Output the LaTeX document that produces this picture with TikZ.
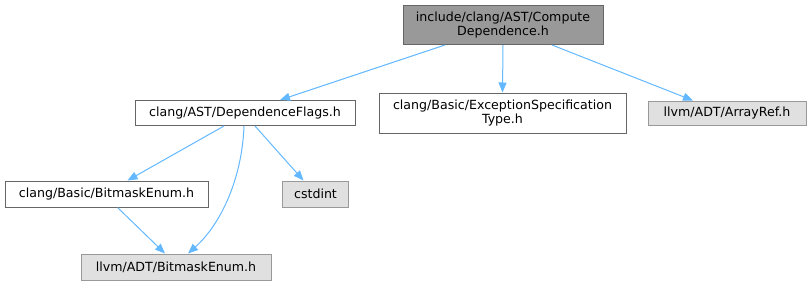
\documentclass[tikz,border=0pt]{standalone}
\usepackage{fontspec}
\setmainfont{DejaVu Sans}
\usetikzlibrary{arrows.meta}
\definecolor{edgeblue}{HTML}{63B8FF}
\definecolor{grayforty}{HTML}{666666}
\definecolor{graysixty}{HTML}{999999}
\definecolor{grayeightyeight}{HTML}{E0E0E0}
\begin{document}
\begin{tikzpicture}[x=1pt,y=-1pt,
  every node/.style={font=\fontsize{12.6}{14.5}\selectfont, inner sep=0pt, align=center},
  filebox/.style={draw=grayforty, fill=white, line width=1pt, rectangle},
  extbox/.style={draw=graysixty, fill=grayeightyeight, line width=1pt, rectangle},
  mainbox/.style={draw=grayforty, fill=graysixty, line width=1pt, rectangle},
  dep/.style={draw=edgeblue, line width=1pt, -{Triangle[length=10pt,width=8pt]}}]
\useasboundingbox (0,0) rectangle (809,285);

% nodes (centre positions, sizes)
\node[mainbox, minimum width=200pt, minimum height=39pt] (top) at (503,25)
  {include/clang/AST/Compute\\Dependence.h};
\node[filebox, minimum width=220pt, minimum height=25pt] (flags) at (245,113)
  {clang/AST/DependenceFlags.h};
\node[filebox, minimum width=247pt, minimum height=40pt] (exc) at (502.5,113)
  {clang/Basic/ExceptionSpecification\\Type.h};
\node[extbox, minimum width=158pt, minimum height=24pt] (arr) at (727,113)
  {llvm/ADT/ArrayRef.h};
\node[filebox, minimum width=203pt, minimum height=26pt] (cbm) at (106.5,194)
  {clang/Basic/BitmaskEnum.h};
\node[extbox, minimum width=66pt, minimum height=26pt] (cst) at (315.5,194)
  {cstdint};
\node[extbox, minimum width=190pt, minimum height=26pt] (lbm) at (176,267)
  {llvm/ADT/BitmaskEnum.h};

% include edges
\draw[dep] ([xshift=-58pt]top.south) -- ([xshift=35pt]flags.north);
\draw[dep] (top.south) -- (exc.north);
\draw[dep] ([xshift=49pt]top.south) -- ([xshift=-34pt]arr.north);
\draw[dep] ([xshift=-21pt]flags.south) -- ([xshift=21pt]cbm.north);
\draw[dep] ([xshift=10pt]flags.south) -- ([xshift=-12pt]cst.north);
\draw[dep] ([xshift=-1pt]flags.south) .. controls (242,180) and (220,225) .. ([xshift=12pt]lbm.north);
\draw[dep] ([xshift=11pt]cbm.south) -- ([xshift=-11pt]lbm.north);
\end{tikzpicture}
\end{document}
